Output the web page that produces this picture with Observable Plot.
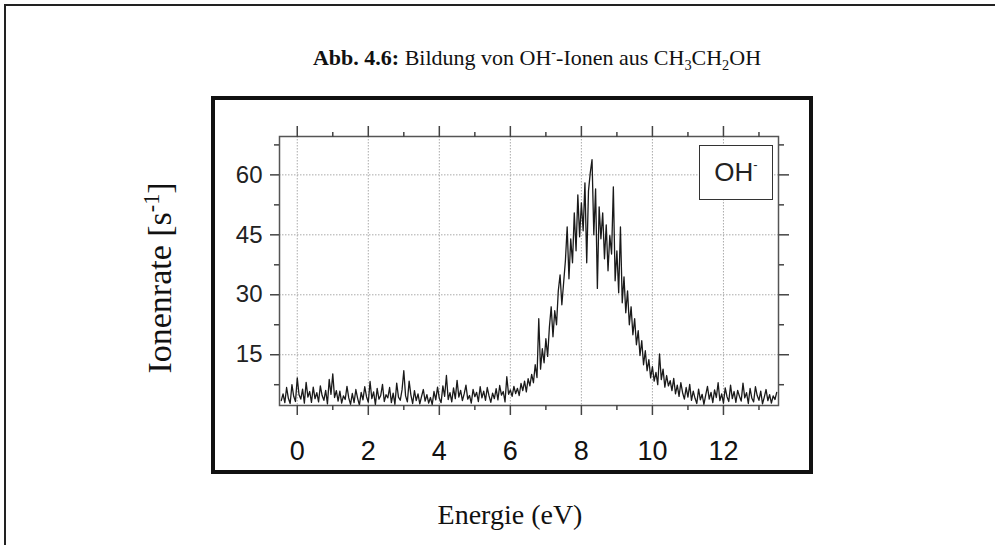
<!DOCTYPE html>
<html>
<head>
<meta charset="utf-8">
<script src="https://cdn.jsdelivr.net/npm/d3@7"></script>
<script src="https://cdn.jsdelivr.net/npm/@observablehq/plot@0.6"></script>
<style>
  html, body { margin: 0; padding: 0; background: #fff; }
  #wrap { position: relative; width: 995px; height: 545px; overflow: hidden; background: #fff; }
  #outer { position: absolute; left: 4px; top: 4px; width: 995px; height: 545px; border-top: 2px solid #222; border-left: 2px solid #222; box-sizing: border-box; }
  #box { position: absolute; left: 211px; top: 96px; width: 602px; height: 378px; border: 4px solid #111; box-sizing: border-box; }
  #title { position: absolute; left: 0; width: 1074px; top: 45px; text-align: center; font-family: "Liberation Serif", "Times New Roman", serif; font-size: 22px; color: #111; }
  #ytitle { position: absolute; left: 160px; top: 278px; transform: translate(-50%, -50%) rotate(-90deg); white-space: nowrap; font-family: "Liberation Serif", serif; font-size: 34px; color: #111; }
  #xtitle { position: absolute; left: 510px; top: 515px; transform: translate(-50%, -50%); white-space: nowrap; font-family: "Liberation Serif", serif; font-size: 28px; color: #111; }
  #legend { position: absolute; left: 699px; top: 145px; width: 74px; height: 55px; border: 1.5px solid #333; box-sizing: border-box; background: #fff; font-family: "Liberation Sans", Arial, sans-serif; font-size: 26px; color: #222; display: flex; align-items: center; justify-content: center; }
  sup, sub { font-size: 0.65em; line-height: 0; }
  #chart { position: absolute; left: 0; top: 0; }
</style>
</head>
<body>
<div id="wrap">
  <div id="outer"></div>
  <div id="box"></div>
  <div id="chart"></div>
  <div id="title"><b>Abb. 4.6:</b> Bildung von OH<sup>-</sup>-Ionen aus CH<sub>3</sub>CH<sub>2</sub>OH</div>
  <div id="ytitle">Ionenrate [s<sup>-1</sup>]</div>
  <div id="xtitle">Energie (eV)</div>
  <div id="legend"><span>OH<sup style="font-size:0.5em;vertical-align:0.9em">-</sup></span></div>
</div>
<script>
// Energy grid (eV)
const energy = [
  -0.45,-0.4,-0.35,-0.3,-0.25,-0.2,-0.15,-0.1,-0.05,0,0.05,0.1,0.15,0.2,0.25,0.3,0.35,0.4,0.45,0.5,
  0.55,0.6,0.65,0.7,0.75,0.8,0.85,0.9,0.95,1,1.05,1.1,1.15,1.2,1.25,1.3,1.35,1.4,1.45,1.5,
  1.55,1.6,1.65,1.7,1.75,1.8,1.85,1.9,1.95,2,2.05,2.1,2.15,2.2,2.25,2.3,2.35,2.4,2.45,2.5,
  2.55,2.6,2.65,2.7,2.75,2.8,2.85,2.9,2.95,3,3.05,3.1,3.15,3.2,3.25,3.3,3.35,3.4,3.45,3.5,
  3.55,3.6,3.65,3.7,3.75,3.8,3.85,3.9,3.95,4,4.05,4.1,4.15,4.2,4.25,4.3,4.35,4.4,4.45,4.5,
  4.55,4.6,4.65,4.7,4.75,4.8,4.85,4.9,4.95,5,5.05,5.1,5.15,5.2,5.25,5.3,5.35,5.4,5.45,5.5,
  5.55,5.6,5.65,5.7,5.75,5.8,5.85,5.9,5.95,6,6.05,6.1,6.15,6.2,6.25,6.3,6.35,6.4,6.45,6.5,
  6.55,6.6,6.65,6.7,6.75,6.8,6.85,6.9,6.95,7,7.05,7.1,7.15,7.2,7.25,7.3,7.35,7.4,7.45,7.5,
  7.55,7.6,7.65,7.7,7.75,7.8,7.85,7.9,7.95,8,8.05,8.1,8.15,8.2,8.25,8.3,8.35,8.4,8.45,8.5,
  8.55,8.6,8.65,8.7,8.75,8.8,8.85,8.9,8.95,9,9.05,9.1,9.15,9.2,9.25,9.3,9.35,9.4,9.45,9.5,
  9.55,9.6,9.65,9.7,9.75,9.8,9.85,9.9,9.95,10,10.05,10.1,10.15,10.2,10.25,10.3,10.35,10.4,10.45,10.5,
  10.55,10.6,10.65,10.7,10.75,10.8,10.85,10.9,10.95,11,11.05,11.1,11.15,11.2,11.25,11.3,11.35,11.4,11.45,11.5,
  11.55,11.6,11.65,11.7,11.75,11.8,11.85,11.9,11.95,12,12.05,12.1,12.15,12.2,12.25,12.3,12.35,12.4,12.45,12.5,
  12.55,12.6,12.65,12.7,12.75,12.8,12.85,12.9,12.95,13,13.05,13.1,13.15,13.2,13.25,13.3,13.35,13.4,13.45,13.5
];
// Ion rate (1/s)
const rate = [
  3.5,5.2,3.0,6.8,4.1,2.8,7.5,4.6,3.3,9.2,5.0,3.9,6.4,2.9,8.1,4.4,5.8,3.1,6.9,4.0,
  5.5,3.2,7.2,4.8,3.6,6.1,2.7,8.8,5.1,10.2,4.3,6.0,3.4,5.9,2.9,4.7,3.8,7.1,4.2,2.6,
  5.3,3.0,6.3,4.1,2.4,5.6,3.7,7.0,4.5,3.1,8.3,4.0,5.7,2.5,6.6,3.9,4.8,7.6,3.3,5.0,
  4.2,6.8,3.0,5.4,2.6,7.9,4.4,3.6,6.2,11.0,4.7,3.2,8.4,4.9,2.8,6.0,3.5,5.2,2.7,4.6,
  6.3,3.4,5.0,2.9,4.3,2.5,5.8,3.7,6.9,4.1,3.0,7.2,4.6,9.8,3.8,5.5,3.2,6.7,4.0,8.6,
  4.4,6.1,3.5,5.2,7.4,3.9,4.8,2.9,6.3,4.5,5.6,3.3,7.0,4.2,5.9,3.6,6.8,4.7,3.1,5.4,
  4.0,6.5,3.7,7.3,4.9,5.8,3.2,9.5,5.1,6.2,4.6,7.1,5.3,6.6,4.8,7.8,6.0,8.4,5.7,9.0,
  7.2,10.1,8.0,12.5,9.3,24.0,11.4,16.5,13.0,19.0,14.6,22.0,27.0,19.5,26.0,22.5,31.0,35.0,27.5,33.0,
  38.5,47.0,34.0,44.0,38.0,50.5,41.0,55.0,44.5,53.0,46.0,58.0,38.0,56.0,60.5,63.8,45.0,56.5,31.6,52.0,
  44.0,50.5,39.0,47.5,36.0,44.8,40.2,57.0,33.5,41.0,30.5,47.0,28.0,34.5,25.5,31.0,22.5,27.0,20.0,24.0,
  17.5,21.0,14.8,18.5,12.5,16.0,11.0,13.8,9.2,12.0,8.4,10.6,7.5,15.2,8.8,11.4,6.9,9.8,7.2,8.5,
  6.0,9.1,5.2,7.4,4.6,8.0,5.5,3.9,6.8,4.4,7.6,3.6,5.9,4.1,2.8,6.4,3.7,5.1,2.6,4.9,
  7.1,3.9,5.6,3.0,6.2,4.3,8.0,3.5,5.2,2.9,6.7,4.5,3.3,7.4,4.0,5.8,3.1,6.1,4.6,3.4,
  7.9,4.2,5.5,2.8,6.6,4.1,3.2,7.0,4.8,3.6,5.9,2.7,4.4,6.3,3.5,5.0,2.9,4.7,3.8,5.6
];
const xMajor = [0, 2, 4, 6, 8, 10, 12];
const xMinor = [1, 3, 5, 7, 9, 11, 13];
const yMajor = [15, 30, 45, 60];
const yMinor = [7.5, 22.5, 37.5, 52.5, 67.5];

const data = energy.map((e, i) => ({energy: e, rate: rate[i]}));
const blank = () => "";
const tickStyle = {stroke: "#444", strokeWidth: 1.5};

const chart = Plot.plot({
  width: 995,
  height: 545,
  marginLeft: 279,
  marginRight: 217,
  marginTop: 136,
  marginBottom: 140,
  style: {background: "transparent", fontFamily: "Liberation Sans, Arial, sans-serif", color: "#222", overflow: "visible"},
  x: {domain: [-0.5, 13.55], label: null},
  y: {domain: [2.3, 69.6], label: null},
  marks: [
    Plot.gridX(xMajor, {stroke: "#aaa", strokeOpacity: 1, strokeDasharray: "1.5,1.5"}),
    Plot.gridY(yMajor, {stroke: "#aaa", strokeOpacity: 1, strokeDasharray: "1.5,1.5"}),
    Plot.line(data, {x: "energy", y: "rate", stroke: "#1a1a1a", strokeWidth: 1.3}),
    Plot.frame({stroke: "#555", strokeWidth: 1.5}),
    Plot.axisX(xMajor, {anchor: "top", tickSize: 11, tickFormat: blank, ...tickStyle}),
    Plot.axisX(xMinor, {anchor: "top", tickSize: 5, tickFormat: blank, ...tickStyle}),
    Plot.axisX(xMajor, {anchor: "bottom", tickSize: 10, tickFormat: blank, ...tickStyle}),
    Plot.axisX(xMinor, {anchor: "bottom", tickSize: 5, tickFormat: blank, ...tickStyle}),
    Plot.axisX(xMajor, {anchor: "bottom", tickSize: 0, tickPadding: 35, fontSize: 27, fill: "#111", tickFormat: d => String(d)}),
    Plot.axisY(yMajor, {anchor: "left", tickSize: 9, tickPadding: 8, fontSize: 24, fill: "#222", tickFormat: d => String(d), ...tickStyle}),
    Plot.axisY(yMinor, {anchor: "left", tickSize: 5, tickFormat: blank, ...tickStyle}),
    Plot.axisY(yMajor, {anchor: "right", tickSize: 10, tickFormat: blank, ...tickStyle}),
    Plot.axisY(yMinor, {anchor: "right", tickSize: 5, tickFormat: blank, ...tickStyle})
  ]
});
document.getElementById("chart").appendChild(chart);
</script>
</body>
</html>
